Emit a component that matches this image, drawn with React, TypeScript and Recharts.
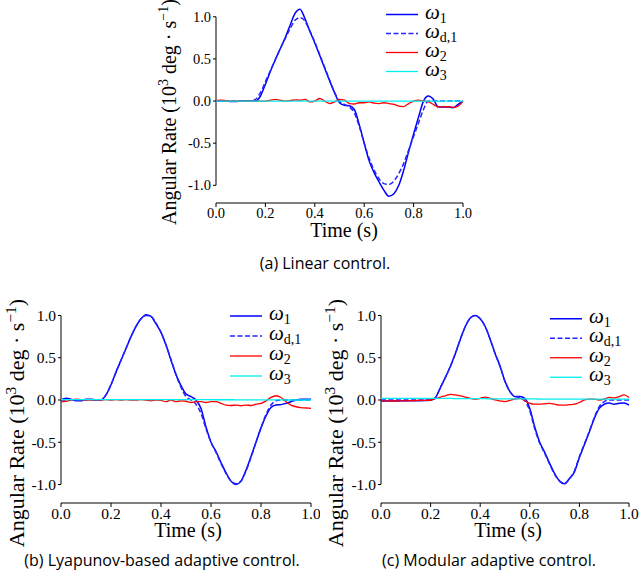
import React from 'react';
import { LineChart, Line, XAxis, YAxis, ReferenceLine, Legend } from 'recharts';

const time = [0, 0.02, 0.04, 0.06, 0.08, 0.1, 0.12, 0.14, 0.16, 0.18, 0.2, 0.22, 0.24, 0.26, 0.28, 0.3, 0.32, 0.34, 0.36, 0.38, 0.4, 0.42, 0.44, 0.46, 0.48, 0.5, 0.52, 0.54, 0.56, 0.58, 0.6, 0.62, 0.64, 0.66, 0.68, 0.7, 0.72, 0.74, 0.76, 0.78, 0.8, 0.82, 0.84, 0.86, 0.88, 0.9, 0.92, 0.94, 0.96, 0.98, 1.0];

// (a) Linear control
const aOmega1 = [0, 0, 0, -0.005, -0.005, 0, 0, 0, 0, 0.06, 0.2, 0.35, 0.49, 0.62, 0.75, 0.9, 1.04, 1.09, 0.98, 0.83, 0.69, 0.54, 0.39, 0.24, 0.1, -0.02, -0.05, -0.055, -0.1, -0.28, -0.5, -0.71, -0.85, -0.96, -1.06, -1.13, -1.1, -1.0, -0.82, -0.6, -0.39, -0.19, 0.0, 0.06, 0.02, -0.07, -0.07, -0.07, -0.08, -0.04, 0.0];
const aOmegaD1 = [0, 0, 0, 0, 0, 0, 0, 0, 0.02, 0.1, 0.23, 0.36, 0.49, 0.62, 0.74, 0.86, 0.96, 0.99, 0.95, 0.83, 0.7, 0.55, 0.4, 0.25, 0.1, 0.0, -0.04, -0.07, -0.14, -0.3, -0.5, -0.68, -0.82, -0.92, -0.98, -0.99, -0.95, -0.86, -0.74, -0.58, -0.42, -0.26, -0.1, 0.0, 0, 0, 0, 0, 0, 0, 0];
const aOmega2 = [0.005, 0.01, 0.005, 0, 0, 0, 0, -0.005, 0, 0, 0, 0.01, 0.02, 0.01, 0, 0.005, 0.015, 0.01, 0.02, -0.01, 0, 0.03, 0, -0.03, -0.01, 0.02, 0.01, -0.03, -0.035, -0.02, -0.02, -0.01, -0.025, -0.03, -0.02, -0.03, -0.04, -0.06, -0.065, -0.03, 0, 0.01, 0, -0.01, -0.04, -0.07, -0.07, -0.065, -0.075, -0.06, 0];
const aOmega3 = [0, 0, 0, 0, 0, 0, 0, 0, 0, 0, 0, 0, 0, 0, 0, 0, 0, 0, 0, 0, 0, 0, 0, 0, 0, 0, 0, 0, 0, 0, 0, 0, 0, 0, 0, 0, 0, 0, 0, 0, 0, 0, 0, 0, 0, 0, 0, 0, 0, 0, 0];

// (b) Lyapunov-based adaptive control
const bOmega1 = [0, 0.02, 0.01, -0.01, -0.01, 0.01, 0.01, 0, 0, 0.06, 0.18, 0.33, 0.47, 0.61, 0.75, 0.87, 0.96, 1.01, 0.99, 0.9, 0.8, 0.65, 0.47, 0.3, 0.17, 0.07, 0.04, 0, -0.1, -0.32, -0.5, -0.61, -0.74, -0.86, -0.96, -1.0, -0.96, -0.83, -0.67, -0.5, -0.33, -0.19, -0.09, -0.06, -0.055, -0.04, -0.02, 0, 0.01, 0.01, 0.01];
const bOmegaD1 = [0, 0, 0, 0, 0, 0, 0, 0, 0, 0.06, 0.18, 0.33, 0.47, 0.61, 0.75, 0.87, 0.96, 1.0, 0.99, 0.91, 0.8, 0.65, 0.48, 0.3, 0.15, 0.04, 0, -0.05, -0.16, -0.34, -0.5, -0.62, -0.75, -0.87, -0.96, -0.99, -0.96, -0.84, -0.68, -0.5, -0.33, -0.17, -0.06, -0.01, 0, 0, 0, 0, 0, 0, 0];
const bOmega2 = [-0.02, -0.015, 0, 0.01, 0.005, 0, 0, 0.005, 0, 0.005, 0, 0.005, 0, 0.005, 0, 0, 0.005, 0, -0.01, 0, -0.005, -0.02, 0, -0.02, -0.01, -0.015, -0.03, -0.02, -0.02, -0.03, -0.02, -0.02, -0.04, -0.06, -0.065, -0.06, -0.07, -0.06, -0.065, -0.05, -0.04, -0.01, 0.03, 0.05, 0.03, -0.02, -0.06, -0.08, -0.09, -0.095, -0.1];
const bOmega3 = [0.005, 0.005, 0.005, 0.005, 0.005, 0.005, 0.005, 0.005, 0.005, 0.005, 0.005, 0.005, 0.005, 0.005, 0.005, 0.005, 0.005, 0.005, 0.005, 0.005, 0.005, 0.005, 0.005, 0.005, 0.005, 0.004, 0.004, 0.004, 0.004, 0.004, 0.003, 0.003, 0.003, 0.003, 0.003, 0.002, 0.002, 0.002, 0.002, 0.002, 0.001, 0.001, 0.001, 0.001, 0.001, 0, 0, 0, 0, 0, 0];

// (c) Modular adaptive control
const cOmega1 = [-0.012, -0.012, -0.012, -0.012, -0.01, -0.01, -0.01, -0.008, -0.008, -0.006, -0.004, 0.03, 0.15, 0.27, 0.4, 0.55, 0.72, 0.87, 0.97, 1.0, 0.96, 0.87, 0.72, 0.55, 0.4, 0.22, 0.1, 0.04, 0.04, 0.02, -0.1, -0.32, -0.5, -0.62, -0.75, -0.87, -0.96, -0.99, -0.93, -0.85, -0.68, -0.53, -0.38, -0.22, -0.1, -0.05, -0.035, -0.05, -0.04, -0.035, -0.06];
const cOmegaD1 = [0, 0, 0, 0, 0, 0, 0, 0, 0, 0, 0, 0.03, 0.15, 0.27, 0.4, 0.55, 0.72, 0.87, 0.97, 1.0, 0.96, 0.87, 0.72, 0.55, 0.4, 0.22, 0.1, 0.04, 0.03, -0.01, -0.13, -0.34, -0.51, -0.63, -0.76, -0.88, -0.96, -0.99, -0.93, -0.84, -0.67, -0.52, -0.37, -0.21, -0.08, -0.02, 0, 0, 0, 0, 0];
const cOmega2 = [-0.01, -0.01, -0.012, -0.012, -0.01, -0.01, -0.008, -0.006, -0.005, -0.004, 0, 0.015, 0.035, 0.05, 0.066, 0.06, 0.05, 0.035, 0.02, 0.01, 0.02, 0.035, 0.02, 0, -0.01, -0.02, -0.005, 0.01, 0.02, -0.01, -0.04, -0.05, -0.05, -0.045, -0.04, -0.05, -0.06, -0.06, -0.055, -0.05, -0.03, 0, 0.01, 0.01, 0, 0.01, 0.03, 0.025, 0.04, 0.06, 0.03];
const cOmega3 = [0.02, 0.02, 0.02, 0.02, 0.02, 0.02, 0.02, 0.02, 0.02, 0.02, 0.02, 0.018, 0.018, 0.018, 0.018, 0.016, 0.016, 0.016, 0.016, 0.015, 0.015, 0.015, 0.014, 0.014, 0.014, 0.013, 0.013, 0.013, 0.012, 0.012, 0.012, 0.012, 0.011, 0.011, 0.011, 0.011, 0.01, 0.01, 0.01, 0.01, 0.01, 0.01, 0.01, 0.01, 0.01, 0.01, 0.01, 0.01, 0.01, 0.01, 0.01];

const xTicks = [0, 0.2, 0.4, 0.6, 0.8, 1.0];
const yTicks = [-1.0, -0.5, 0.0, 0.5, 1.0];
const captions = ['(a) Linear control.', '(b) Lyapunov-based adaptive control.', '(c) Modular adaptive control.'];
const xLabel = 'Time (s)';

const seriesKeys = ['w1', 'wd1', 'w2', 'w3'];
const seriesSubs = ['1', 'd,1', '2', '3'];
const seriesColors = ['#0000ff', '#2323ff', '#ff0000', '#00f0f0'];
const seriesDash = [undefined, '5 2.5', undefined, undefined];
const seriesWidth = [1.5, 1.5, 1.3, 1.3];

const buildRows = (s1: number[], sd: number[], s2: number[], s3: number[]) =>
  time.map((t, i) => ({ t, w1: s1[i], wd1: sd[i], w2: s2[i], w3: s3[i] }));

const dataA = buildRows(aOmega1, aOmegaD1, aOmega2, aOmega3);
const dataB = buildRows(bOmega1, bOmegaD1, bOmega2, bOmega3);
const dataC = buildRows(cOmega1, cOmegaD1, cOmega2, cOmega3);

const SERIF = 'Liberation Serif';
const SANS = 'Open Sans';

const makeLegend = (rowH: number) => () => (
  <svg width={80} height={rowH * 4} style={{ display: 'block', overflow: 'visible' }}>
    {seriesKeys.map((k, i) => {
      const cy = rowH * i + rowH / 2;
      return (
        <g key={k}>
          <line x1={0} x2={32} y1={cy} y2={cy} stroke={seriesColors[i]} strokeWidth={seriesWidth[i]} strokeDasharray={seriesDash[i]} />
          <text x={39} y={cy + 4} fontFamily={SERIF} fill="#000">
            <tspan fontSize={21} fontStyle="italic">ω</tspan>
            <tspan fontSize={14} dy={4}>{seriesSubs[i]}</tspan>
          </text>
        </g>
      );
    })}
  </svg>
);

const makeXTick = (size: number) => (props: any) => (
  <text x={props.x} y={props.y} dy="0.71em" textAnchor="middle" fontFamily={SERIF} fontSize={size} fill="#000">
    {Number(props.payload.value).toFixed(1)}
  </text>
);

const makeYTick = (size: number) => (props: any) => (
  <text x={props.x} y={props.y} dy="0.34em" textAnchor="end" fontFamily={SERIF} fontSize={size} fill="#000">
    {Number(props.payload.value).toFixed(1)}
  </text>
);

type PanelProps = {
  left: number; top: number; width: number; height: number;
  margin: { top: number; right: number; bottom: number; left: number };
  yAxisWidth: number; yDomain: [number, number]; data: any[];
  legendLeft: number; legendTop: number; rowH: number; tickSize: number;
};

const Panel = (p: PanelProps) => (
  <div style={{ position: 'absolute', left: p.left, top: p.top }}>
    <LineChart width={p.width} height={p.height} data={p.data} margin={p.margin}>
      <XAxis dataKey="t" type="number" domain={[0, 1]} ticks={xTicks}
        height={20} tickSize={4} tickMargin={1} stroke="#000" tick={makeXTick(p.tickSize)} interval={0} />
      <YAxis type="number" domain={p.yDomain} ticks={yTicks} allowDataOverflow
        width={p.yAxisWidth} axisLine={false} tickSize={3} tickMargin={2} stroke="#000" tick={makeYTick(p.tickSize)} interval={0} />
      <ReferenceLine segment={[{ x: 0, y: -1 }, { x: 0, y: 1 }]} stroke="#000" strokeWidth={1} ifOverflow="visible" />
      {seriesKeys.map((k, i) => (
        <Line key={k} dataKey={k} type="monotone" stroke={seriesColors[i]} strokeWidth={seriesWidth[i]}
          strokeDasharray={seriesDash[i]} dot={false} activeDot={false} isAnimationActive={false} />
      ))}
      <Legend layout="horizontal" verticalAlign="middle" align="center" content={makeLegend(p.rowH)}
        wrapperStyle={{ left: p.legendLeft, top: p.legendTop, width: 'auto' }} />
    </LineChart>
  </div>
);

const YLabel = ({ x, y, size }: { x: number; y: number; size: number }) => (
  <text transform={`translate(${x},${y}) rotate(-90)`} textAnchor="middle" fontFamily={SERIF} fontSize={size} fill="#000">
    Angular Rate (10<tspan dy={-size * 0.38} fontSize={size * 0.7}>3</tspan>
    <tspan dy={size * 0.38}> deg · s</tspan>
    <tspan dy={-size * 0.38} fontSize={size * 0.7}>−1</tspan>
    <tspan dy={size * 0.38}>)</tspan>
  </text>
);

export default function App() {
  return (
    <div style={{ position: 'absolute', left: 0, top: 0, width: 639, height: 579, background: '#fff', overflow: 'hidden' }}>
      <Panel left={0} top={0} width={639} height={230}
        margin={{ top: 5, right: 176, bottom: 7, left: 156 }} yAxisWidth={60} yDomain={[-1.21, 1.14]}
        data={dataA} legendLeft={386} legendTop={4.5} rowH={19} tickSize={14.5} />
      <Panel left={0} top={290} width={320} height={240}
        margin={{ top: 15, right: 9, bottom: 7, left: 16 }} yAxisWidth={45} yDomain={[-1.219, 1.124]}
        data={dataB} legendLeft={230} legendTop={15.5} rowH={20} tickSize={15.5} />
      <Panel left={320} top={290} width={319} height={240}
        margin={{ top: 15, right: 10, bottom: 7, left: 16 }} yAxisWidth={45} yDomain={[-1.219, 1.124]}
        data={dataC} legendLeft={230} legendTop={18.5} rowH={19.5} tickSize={15.5} />
      <svg width={639} height={579} style={{ position: 'absolute', left: 0, top: 0, pointerEvents: 'none' }}>
        <YLabel x={176} y={112} size={20} />
        <YLabel x={24} y={423} size={22} />
        <YLabel x={343} y={423} size={22} />
        <text x={344} y={237} textAnchor="middle" fontFamily={SERIF} fontSize={20} fill="#000">{xLabel}</text>
        <text x={188} y={537} textAnchor="middle" fontFamily={SERIF} fontSize={20} fill="#000">{xLabel}</text>
        <text x={508} y={537} textAnchor="middle" fontFamily={SERIF} fontSize={20} fill="#000">{xLabel}</text>
        <text x={325} y={269} textAnchor="middle" fontFamily={SANS} fontSize={16} fill="#000">{captions[0]}</text>
        <text x={162} y={566} textAnchor="middle" fontFamily={SANS} fontSize={16} fill="#000">{captions[1]}</text>
        <text x={489} y={566} textAnchor="middle" fontFamily={SANS} fontSize={16} fill="#000">{captions[2]}</text>
      </svg>
    </div>
  );
}
